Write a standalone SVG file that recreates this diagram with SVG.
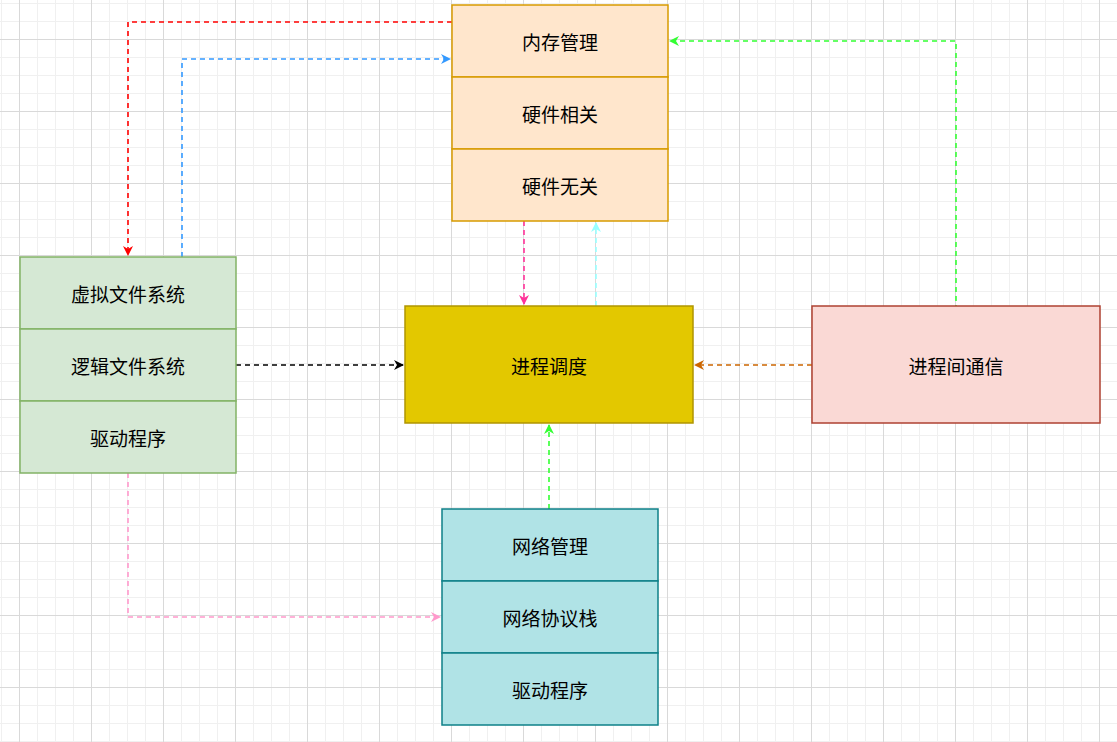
<svg xmlns="http://www.w3.org/2000/svg" width="1117" height="742" viewBox="0 0 1117 742">
<defs>
<pattern id="minor" x="1" y="3" width="18" height="18" patternUnits="userSpaceOnUse"><path d="M0 0.5H18M0.5 0V18" stroke="#f0f0f0" stroke-width="1" fill="none"/></pattern>
<pattern id="major" x="19" y="39" width="72" height="72" patternUnits="userSpaceOnUse"><path d="M0 0.5H72M0.5 0V72" stroke="#d9d9d9" stroke-width="1" fill="none"/></pattern>
<marker id="ah" viewBox="0 0 10 10" refX="9" refY="5" markerWidth="10" markerHeight="10" markerUnits="userSpaceOnUse" orient="auto"><path d="M0 0L10 5L0 10L3 5Z" fill="context-stroke"/></marker>
<style>
text{font-family:"Noto Sans CJK SC","Liberation Sans",sans-serif;font-size:19px;text-anchor:middle;dominant-baseline:central;fill:#000}
.c{fill:none;stroke-width:1.6;stroke-dasharray:5 4;marker-end:url(#ah)}
.o rect{fill:#ffe6cc;stroke:#d79b00;stroke-width:1.5}
.g rect{fill:#d5e8d4;stroke:#82b366;stroke-width:1.5}
.t rect{fill:#b0e3e6;stroke:#0e8088;stroke-width:1.5}
</style>
</defs>
<rect width="1117" height="742" fill="#fff"/>
<rect width="1117" height="742" fill="url(#minor)"/>
<rect width="1117" height="742" fill="url(#major)"/>
<g id="connectors">
<path class="c" stroke="#ff0000" d="M452 22H128V255"/>
<path class="c" stroke="#3399ff" d="M182 257V59H450"/>
<path class="c" stroke="#33ff33" d="M956 310V41H670"/>
<path class="c" stroke="#ff3399" d="M524 221V304"/>
<path class="c" stroke="#99ffff" d="M596 306V223"/>
<path class="c" stroke="#000000" d="M236 365H403"/>
<path class="c" stroke="#cc6600" d="M812 365H695"/>
<path class="c" stroke="#33ff33" d="M549 509V425"/>
<path class="c" stroke="#ff99cc" d="M128 473V617H440"/>
</g>
<g id="memory" class="o">
<rect x="452" y="5" width="216" height="72"/><text x="560" y="41">内存管理</text>
<rect x="452" y="77" width="216" height="72"/><text x="560" y="113">硬件相关</text>
<rect x="452" y="149" width="216" height="72"/><text x="560" y="185">硬件无关</text>
</g>
<g id="fs" class="g">
<rect x="20" y="257" width="216" height="72"/><text x="128" y="293">虚拟文件系统</text>
<rect x="20" y="329" width="216" height="72"/><text x="128" y="365">逻辑文件系统</text>
<rect x="20" y="401" width="216" height="72"/><text x="128" y="437">驱动程序</text>
</g>
<g id="sched">
<rect x="405" y="306" width="288" height="117" fill="#e3c800" stroke="#b09500" stroke-width="1.5"/><text x="549" y="365">进程调度</text>
</g>
<g id="ipc">
<rect x="812" y="306" width="288" height="117" fill="#fad9d5" stroke="#ae4132" stroke-width="1.5"/><text x="956" y="365">进程间通信</text>
</g>
<g id="net" class="t">
<rect x="442" y="509" width="216" height="72"/><text x="550" y="545">网络管理</text>
<rect x="442" y="581" width="216" height="72"/><text x="550" y="617">网络协议栈</text>
<rect x="442" y="653" width="216" height="72"/><text x="550" y="689">驱动程序</text>
</g>
</svg>
